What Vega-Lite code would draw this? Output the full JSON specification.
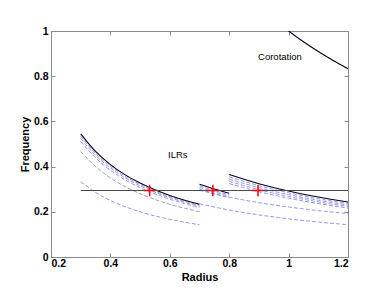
{
  "$schema": "https://vega.github.io/schema/vega-lite/v6.json",
  "width": 297,
  "height": 226,
  "autosize": {"type": "none"},
  "padding": {"left": 51, "top": 31, "right": 37, "bottom": 41},
  "background": "white",
  "config": {
    "view": {"stroke": "#8a8a8a", "strokeWidth": 1},
    "font": "Liberation Sans",
    "axis": {"grid": false, "domain": false, "tickColor": "#8a8a8a", "tickSize": -4, "labelColor": "#000", "titleColor": "#000", "labelFont": "Liberation Sans", "titleFont": "Liberation Sans", "labelFontSize": 10.5, "labelFontWeight": "bold", "titleFontSize": 11, "titleFontWeight": "bold"}
  },
  "datasets": {
    "curves": [
      {"s": "b1", "t": "solid", "x": 0.3, "y": 0.545}, {"s": "b1", "t": "solid", "x": 0.35, "y": 0.4671}, {"s": "b1", "t": "solid", "x": 0.4, "y": 0.4088}, {"s": "b1", "t": "solid", "x": 0.45, "y": 0.3633}, {"s": "b1", "t": "solid", "x": 0.5, "y": 0.327}, {"s": "b1", "t": "solid", "x": 0.55, "y": 0.2973}, {"s": "b1", "t": "solid", "x": 0.6, "y": 0.2725}, {"s": "b1", "t": "solid", "x": 0.65, "y": 0.2515}, {"s": "b1", "t": "solid", "x": 0.7, "y": 0.2336},
      {"s": "d1a", "t": "dash", "x": 0.3, "y": 0.535}, {"s": "d1a", "t": "dash", "x": 0.35, "y": 0.4586}, {"s": "d1a", "t": "dash", "x": 0.4, "y": 0.4013}, {"s": "d1a", "t": "dash", "x": 0.45, "y": 0.3567}, {"s": "d1a", "t": "dash", "x": 0.5, "y": 0.321}, {"s": "d1a", "t": "dash", "x": 0.55, "y": 0.2918}, {"s": "d1a", "t": "dash", "x": 0.6, "y": 0.2675}, {"s": "d1a", "t": "dash", "x": 0.65, "y": 0.2469}, {"s": "d1a", "t": "dash", "x": 0.7, "y": 0.2293},
      {"s": "d1b", "t": "dash", "x": 0.3, "y": 0.525}, {"s": "d1b", "t": "dash", "x": 0.35, "y": 0.45}, {"s": "d1b", "t": "dash", "x": 0.4, "y": 0.3938}, {"s": "d1b", "t": "dash", "x": 0.45, "y": 0.35}, {"s": "d1b", "t": "dash", "x": 0.5, "y": 0.315}, {"s": "d1b", "t": "dash", "x": 0.55, "y": 0.2864}, {"s": "d1b", "t": "dash", "x": 0.6, "y": 0.2625}, {"s": "d1b", "t": "dash", "x": 0.65, "y": 0.2423}, {"s": "d1b", "t": "dash", "x": 0.7, "y": 0.225},
      {"s": "d1c", "t": "dash", "x": 0.3, "y": 0.5117}, {"s": "d1c", "t": "dash", "x": 0.35, "y": 0.4386}, {"s": "d1c", "t": "dash", "x": 0.4, "y": 0.3838}, {"s": "d1c", "t": "dash", "x": 0.45, "y": 0.3411}, {"s": "d1c", "t": "dash", "x": 0.5, "y": 0.307}, {"s": "d1c", "t": "dash", "x": 0.55, "y": 0.2791}, {"s": "d1c", "t": "dash", "x": 0.6, "y": 0.2558}, {"s": "d1c", "t": "dash", "x": 0.65, "y": 0.2362}, {"s": "d1c", "t": "dash", "x": 0.7, "y": 0.2193},
      {"s": "d1d", "t": "dash", "x": 0.3, "y": 0.4667}, {"s": "d1d", "t": "dash", "x": 0.35, "y": 0.4}, {"s": "d1d", "t": "dash", "x": 0.4, "y": 0.35}, {"s": "d1d", "t": "dash", "x": 0.45, "y": 0.3111}, {"s": "d1d", "t": "dash", "x": 0.5, "y": 0.28}, {"s": "d1d", "t": "dash", "x": 0.55, "y": 0.2545}, {"s": "d1d", "t": "dash", "x": 0.6, "y": 0.2333}, {"s": "d1d", "t": "dash", "x": 0.65, "y": 0.2154}, {"s": "d1d", "t": "dash", "x": 0.7, "y": 0.2},
      {"s": "d1e", "t": "dash", "x": 0.3, "y": 0.3333}, {"s": "d1e", "t": "dash", "x": 0.35, "y": 0.2857}, {"s": "d1e", "t": "dash", "x": 0.4, "y": 0.25}, {"s": "d1e", "t": "dash", "x": 0.45, "y": 0.2222}, {"s": "d1e", "t": "dash", "x": 0.5, "y": 0.2}, {"s": "d1e", "t": "dash", "x": 0.55, "y": 0.1818}, {"s": "d1e", "t": "dash", "x": 0.6, "y": 0.1667}, {"s": "d1e", "t": "dash", "x": 0.65, "y": 0.1538}, {"s": "d1e", "t": "dash", "x": 0.7, "y": 0.1429},
      {"s": "b2", "t": "solid", "x": 0.7, "y": 0.322}, {"s": "b2", "t": "solid", "x": 0.75, "y": 0.3005}, {"s": "b2", "t": "solid", "x": 0.8, "y": 0.2818},
      {"s": "d2a", "t": "dash", "x": 0.7, "y": 0.315}, {"s": "d2a", "t": "dash", "x": 0.75, "y": 0.294}, {"s": "d2a", "t": "dash", "x": 0.8, "y": 0.2756},
      {"s": "d2b", "t": "dash", "x": 0.7, "y": 0.308}, {"s": "d2b", "t": "dash", "x": 0.75, "y": 0.2875}, {"s": "d2b", "t": "dash", "x": 0.8, "y": 0.2695},
      {"s": "d2c", "t": "dash", "x": 0.7, "y": 0.3}, {"s": "d2c", "t": "dash", "x": 0.75, "y": 0.28}, {"s": "d2c", "t": "dash", "x": 0.8, "y": 0.2625},
      {"s": "L1", "t": "dash", "x": 0.7, "y": 0.296}, {"s": "L1", "t": "dash", "x": 0.75, "y": 0.2793}, {"s": "L1", "t": "dash", "x": 0.8, "y": 0.2648}, {"s": "L1", "t": "dash", "x": 0.9, "y": 0.2405}, {"s": "L1", "t": "dash", "x": 1.0, "y": 0.2211}, {"s": "L1", "t": "dash", "x": 1.1, "y": 0.2052}, {"s": "L1", "t": "dash", "x": 1.2, "y": 0.192},
      {"s": "L2", "t": "dash", "x": 0.7, "y": 0.2359}, {"s": "L2", "t": "dash", "x": 0.75, "y": 0.221}, {"s": "L2", "t": "dash", "x": 0.8, "y": 0.208}, {"s": "L2", "t": "dash", "x": 0.9, "y": 0.1863}, {"s": "L2", "t": "dash", "x": 1.0, "y": 0.169}, {"s": "L2", "t": "dash", "x": 1.1, "y": 0.1548}, {"s": "L2", "t": "dash", "x": 1.2, "y": 0.143},
      {"s": "b3", "t": "solid", "x": 0.8, "y": 0.365}, {"s": "b3", "t": "solid", "x": 0.9, "y": 0.3244}, {"s": "b3", "t": "solid", "x": 1.0, "y": 0.292}, {"s": "b3", "t": "solid", "x": 1.1, "y": 0.2655}, {"s": "b3", "t": "solid", "x": 1.2, "y": 0.2433},
      {"s": "d3a", "t": "dash", "x": 0.8, "y": 0.355}, {"s": "d3a", "t": "dash", "x": 0.9, "y": 0.3156}, {"s": "d3a", "t": "dash", "x": 1.0, "y": 0.284}, {"s": "d3a", "t": "dash", "x": 1.1, "y": 0.2582}, {"s": "d3a", "t": "dash", "x": 1.2, "y": 0.2367},
      {"s": "d3b", "t": "dash", "x": 0.8, "y": 0.345}, {"s": "d3b", "t": "dash", "x": 0.9, "y": 0.3067}, {"s": "d3b", "t": "dash", "x": 1.0, "y": 0.276}, {"s": "d3b", "t": "dash", "x": 1.1, "y": 0.2509}, {"s": "d3b", "t": "dash", "x": 1.2, "y": 0.23},
      {"s": "d3c", "t": "dash", "x": 0.8, "y": 0.335}, {"s": "d3c", "t": "dash", "x": 0.9, "y": 0.2978}, {"s": "d3c", "t": "dash", "x": 1.0, "y": 0.268}, {"s": "d3c", "t": "dash", "x": 1.1, "y": 0.2436}, {"s": "d3c", "t": "dash", "x": 1.2, "y": 0.2233},
      {"s": "d3d", "t": "dash", "x": 0.8, "y": 0.325}, {"s": "d3d", "t": "dash", "x": 0.9, "y": 0.2889}, {"s": "d3d", "t": "dash", "x": 1.0, "y": 0.26}, {"s": "d3d", "t": "dash", "x": 1.1, "y": 0.2364}, {"s": "d3d", "t": "dash", "x": 1.2, "y": 0.2167},
      {"s": "cor", "t": "solid", "x": 1.0, "y": 1.0}, {"s": "cor", "t": "solid", "x": 1.05, "y": 0.9524}, {"s": "cor", "t": "solid", "x": 1.1, "y": 0.9091}, {"s": "cor", "t": "solid", "x": 1.15, "y": 0.8696}, {"s": "cor", "t": "solid", "x": 1.2, "y": 0.8333},
      {"s": "h", "t": "hline", "x": 0.3, "y": 0.294}, {"s": "h", "t": "hline", "x": 1.2, "y": 0.294}
    ],
    "points": [
      {"x": 0.532, "y": 0.294}, {"x": 0.745, "y": 0.294}, {"x": 0.897, "y": 0.294}
    ],
    "labels": [
      {"x": 0.627, "y": 0.451, "text": "ILRs"},
      {"x": 0.971, "y": 0.884, "text": "Corotation"}
    ]
  },
  "resolve": {"axis": {"x": "independent", "y": "independent"}},
  "layer": [
    {
      "data": {"name": "curves"},
      "transform": [{"filter": "datum.t === 'dash'"}],
      "mark": {"type": "line", "color": "#8c8ce4", "strokeWidth": 0.9, "strokeDash": [4, 2], "interpolate": "monotone", "clip": true},
      "encoding": {
        "x": {"field": "x", "type": "quantitative", "scale": {"domain": [0.2, 1.2], "nice": false, "zero": false},
              "axis": {"orient": "bottom", "values": [0.2, 0.4, 0.6, 0.8, 1, 1.2], "format": "~g", "title": "Radius", "labelPadding": 5, "titlePadding": 3}},
        "y": {"field": "y", "type": "quantitative", "scale": {"domain": [0, 1], "nice": false},
              "axis": {"orient": "left", "values": [0, 0.2, 0.4, 0.6, 0.8, 1], "format": "~g", "title": "Frequency", "labelPadding": 7, "titlePadding": 3}},
        "detail": {"field": "s"}
      }
    },
    {
      "data": {"name": "curves"},
      "transform": [{"filter": "datum.t === 'solid'"}],
      "mark": {"type": "line", "color": "#000020", "strokeWidth": 1.1, "interpolate": "monotone", "clip": true},
      "encoding": {
        "x": {"field": "x", "type": "quantitative", "axis": {"orient": "top", "values": [0.2, 0.4, 0.6, 0.8, 1, 1.2], "labels": false, "title": null}},
        "y": {"field": "y", "type": "quantitative", "axis": {"orient": "right", "values": [0, 0.2, 0.4, 0.6, 0.8, 1], "labels": false, "title": null}},
        "detail": {"field": "s"}
      }
    },
    {
      "data": {"name": "curves"},
      "transform": [{"filter": "datum.t === 'hline'"}],
      "mark": {"type": "line", "color": "#4a4a4a", "strokeWidth": 1.1},
      "encoding": {
        "x": {"field": "x", "type": "quantitative", "axis": null},
        "y": {"field": "y", "type": "quantitative", "axis": null}
      }
    },
    {
      "data": {"name": "points"},
      "mark": {"type": "point", "shape": "M-1,0L1,0M0,-1L0,1", "size": 130, "stroke": "#ff0000", "strokeWidth": 1.5, "filled": false, "opacity": 1},
      "encoding": {
        "x": {"field": "x", "type": "quantitative", "axis": null},
        "y": {"field": "y", "type": "quantitative", "axis": null}
      }
    },
    {
      "data": {"name": "labels"},
      "mark": {"type": "text", "font": "Liberation Sans", "fontSize": 9.5, "color": "#000", "align": "center", "baseline": "middle"},
      "encoding": {
        "x": {"field": "x", "type": "quantitative", "axis": null},
        "y": {"field": "y", "type": "quantitative", "axis": null},
        "text": {"field": "text"}
      }
    }
  ]
}
